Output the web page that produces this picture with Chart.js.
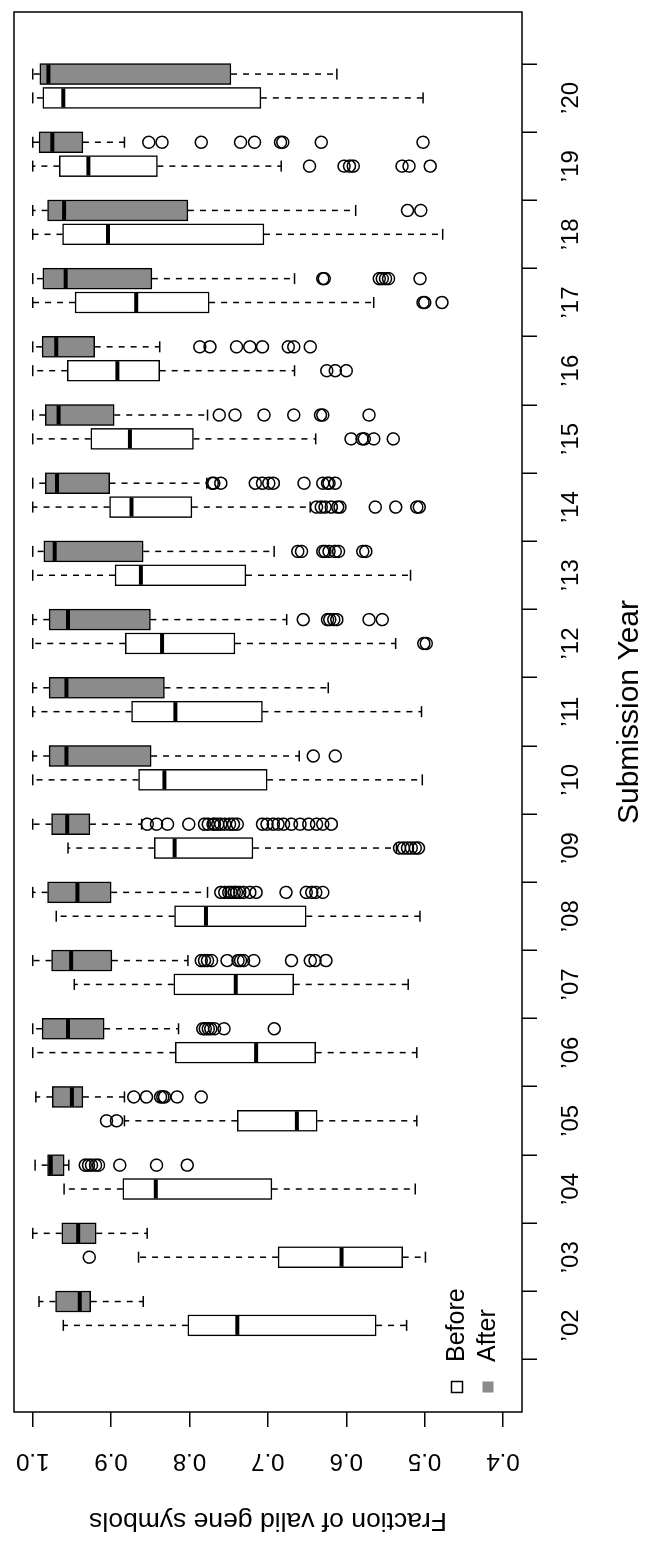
<!DOCTYPE html>
<html>
<head>
<meta charset="utf-8">
<script src="https://cdn.jsdelivr.net/npm/chart.js@4.4.1/dist/chart.umd.min.js"></script>
<style>
html, body { margin: 0; padding: 0; background: #fff; overflow: hidden; }
body { width: 650px; height: 1543px; position: relative; }
/* the plot is drawn upright (years along x) and then turned a quarter turn counter-clockwise */
#wrap { position: absolute; left: 0; top: 0; width: 1543px; height: 650px; transform-origin: 0 0; transform: translateY(1543px) rotate(-90deg); }
</style>
</head>
<body>
<div id="wrap"><canvas id="chart" width="1543" height="650"></canvas></div>
<script>
const years = ["\u201902", "\u201903", "\u201904", "\u201905", "\u201906", "\u201907", "\u201908", "\u201909", "\u201910", "\u201911",
  "\u201912", "\u201913", "\u201914", "\u201915", "\u201916", "\u201917", "\u201918", "\u201919", "\u201920"];
const valueTicks = [0.4, 0.5, 0.6, 0.7, 0.8, 0.9, 1.0];

// Before
const beforeHigh   = [0.961, 0.865, 0.960, 0.883, 1.000, 0.947, 0.970, 0.955, 1.000, 1.000, 1.000, 1.000, 1.000, 1.000, 1.000, 1.000, 1.000, 1.000, 1.000];
const beforeQ3     = [0.802, 0.687, 0.885, 0.739, 0.818, 0.820, 0.819, 0.845, 0.865, 0.874, 0.882, 0.895, 0.902, 0.926, 0.956, 0.946, 0.962, 0.966, 0.987];
const beforeMedian = [0.739, 0.606, 0.843, 0.663, 0.715, 0.741, 0.779, 0.819, 0.832, 0.818, 0.835, 0.862, 0.874, 0.876, 0.892, 0.868, 0.904, 0.929, 0.961];
const beforeQ1     = [0.562, 0.528, 0.695, 0.637, 0.639, 0.667, 0.651, 0.719, 0.701, 0.707, 0.742, 0.728, 0.797, 0.795, 0.838, 0.775, 0.705, 0.841, 0.709];
const beforeLow    = [0.523, 0.499, 0.512, 0.510, 0.510, 0.521, 0.506, 0.536, 0.503, 0.504, 0.537, 0.518, 0.646, 0.639, 0.666, 0.565, 0.477, 0.683, 0.502];
const beforeOutliers = [
  [], [0.928], [], [0.906, 0.893], [], [], [],
  [0.532, 0.527, 0.522, 0.517, 0.512, 0.508],
  [], [], [0.501, 0.498], [],
  [0.638, 0.632, 0.627, 0.619, 0.611, 0.608, 0.563, 0.537, 0.510, 0.507],
  [0.594, 0.580, 0.577, 0.565, 0.540],
  [0.625, 0.614, 0.600],
  [0.502, 0.500, 0.478],
  [],
  [0.647, 0.603, 0.596, 0.591, 0.529, 0.520, 0.493],
  []
];

// After
const afterHigh   = [0.992, 1.000, 0.997, 0.996, 1.000, 1.000, 1.000, 1.000, 1.000, 1.000, 1.000, 1.000, 1.000, 1.000, 1.000, 1.000, 1.000, 1.000, 1.000];
const afterQ3     = [0.971, 0.963, 0.981, 0.975, 0.988, 0.976, 0.981, 0.976, 0.979, 0.979, 0.979, 0.986, 0.984, 0.984, 0.988, 0.987, 0.981, 0.992, 0.991];
const afterMedian = [0.940, 0.942, 0.977, 0.950, 0.955, 0.951, 0.943, 0.956, 0.957, 0.957, 0.955, 0.972, 0.969, 0.967, 0.970, 0.958, 0.960, 0.975, 0.980];
const afterQ1     = [0.926, 0.919, 0.960, 0.936, 0.909, 0.899, 0.900, 0.927, 0.849, 0.832, 0.850, 0.859, 0.902, 0.896, 0.921, 0.848, 0.802, 0.936, 0.747];
const afterLow    = [0.859, 0.854, 0.954, 0.883, 0.814, 0.802, 0.777, 0.861, 0.660, 0.623, 0.676, 0.692, 0.778, 0.777, 0.838, 0.666, 0.588, 0.883, 0.612];
const afterOutliers = [
  [], [],
  [0.933, 0.929, 0.925, 0.920, 0.916, 0.889, 0.842, 0.803],
  [0.871, 0.855, 0.837, 0.834, 0.832, 0.816, 0.785],
  [0.783, 0.780, 0.776, 0.773, 0.768, 0.756, 0.692],
  [0.785, 0.781, 0.777, 0.772, 0.752, 0.738, 0.735, 0.731, 0.718, 0.670, 0.646, 0.640, 0.626],
  [0.760, 0.755, 0.750, 0.747, 0.743, 0.740, 0.736, 0.731, 0.723, 0.715, 0.677, 0.651, 0.644, 0.639, 0.630],
  [0.854, 0.842, 0.828, 0.801, 0.781, 0.776, 0.770, 0.768, 0.764, 0.760, 0.755, 0.749, 0.744, 0.739,
   0.707, 0.701, 0.693, 0.687, 0.680, 0.670, 0.659, 0.648, 0.638, 0.630, 0.619],
  [0.642, 0.614],
  [],
  [0.655, 0.624, 0.621, 0.616, 0.612, 0.571, 0.554],
  [0.662, 0.657, 0.630, 0.627, 0.622, 0.614, 0.610, 0.579, 0.575],
  [0.771, 0.769, 0.760, 0.716, 0.707, 0.699, 0.693, 0.654, 0.630, 0.624, 0.622, 0.614],
  [0.762, 0.742, 0.705, 0.667, 0.633, 0.630, 0.571],
  [0.787, 0.774, 0.740, 0.723, 0.707, 0.674, 0.667, 0.646],
  [0.630, 0.628, 0.558, 0.554, 0.550, 0.546, 0.506],
  [0.522, 0.505],
  [0.852, 0.835, 0.785, 0.735, 0.717, 0.684, 0.681, 0.632, 0.502],
  []
];

const AFTER_SHIFT = 0.35;
const BOX_PX = 21;
const FONT = "'Liberation Sans', Arial, Helvetica, sans-serif";

function boxData(q1, q3, shift) {
  return years.map((_, i) => ({ x: i + 1 + shift, y: [q1[i], q3[i]] }));
}

function outlierData(list, shift) {
  const pts = [];
  list.forEach((vals, i) => vals.forEach(v => pts.push({ x: i + 1 + shift, y: v })));
  return pts;
}

function line(ctx, x1, y1, x2, y2) {
  ctx.beginPath();
  ctx.moveTo(x1, y1);
  ctx.lineTo(x2, y2);
  ctx.stroke();
}

// whiskers under the boxes, medians / frame / legend on top
const boxPlot = {
  id: 'boxPlot',
  beforeDatasetsDraw(chart) {
    const { ctx, scales: { x, y } } = chart;
    ctx.save();
    ctx.strokeStyle = '#000';
    ctx.lineWidth = 1.5;
    chart.data.datasets.forEach(ds => {
      if (!ds.stats) return;
      ds.data.forEach((d, i) => {
        const px = x.getPixelForValue(d.x);
        const hi = y.getPixelForValue(ds.stats.high[i]);
        const lo = y.getPixelForValue(ds.stats.low[i]);
        ctx.setLineDash([6, 6]);
        line(ctx, px, y.getPixelForValue(d.y[1]), px, hi);
        line(ctx, px, y.getPixelForValue(d.y[0]), px, lo);
        ctx.setLineDash([]);
        line(ctx, px - 5.5, hi, px + 5.5, hi);
        line(ctx, px - 5.5, lo, px + 5.5, lo);
      });
    });
    ctx.restore();
  },
  afterDatasetsDraw(chart) {
    const { ctx, chartArea: a, scales: { x, y } } = chart;
    ctx.save();
    ctx.strokeStyle = '#000';
    ctx.lineWidth = 4;
    chart.data.datasets.forEach(ds => {
      if (!ds.stats) return;
      ds.data.forEach((d, i) => {
        const px = x.getPixelForValue(d.x);
        const py = y.getPixelForValue(ds.stats.median[i]);
        line(ctx, px - BOX_PX / 2 + 1, py, px + BOX_PX / 2 - 1, py);
      });
    });

    // frame
    ctx.lineWidth = 1.5;
    ctx.strokeRect(a.left, a.top, a.right - a.left, a.bottom - a.top);

    // legend, bottom left
    const boxes = chart.data.datasets.filter(ds => ds.stats);
    ctx.font = '25px ' + FONT;
    ctx.textAlign = 'left';
    ctx.textBaseline = 'middle';
    boxes.forEach((ds, k) => {
      const cx = a.left + 25;
      const cy = a.bottom - 65 + k * 31;
      if (k === 0) {
        ctx.fillStyle = '#fff';
        ctx.fillRect(cx - 5.5, cy - 5.5, 11, 11);
        ctx.strokeRect(cx - 5.5, cy - 5.5, 11, 11);
      } else {
        ctx.fillStyle = ds.backgroundColor;
        ctx.fillRect(cx - 5.5, cy - 5.5, 11, 11);
      }
      ctx.fillStyle = '#000';
      ctx.fillText(ds.label, cx + 25, cy);
    });
    ctx.restore();
  }
};

new Chart(document.getElementById('chart'), {
  type: 'bar',
  data: {
    datasets: [
      {
        label: 'Before',
        data: boxData(beforeQ1, beforeQ3, 0),
        stats: { low: beforeLow, median: beforeMedian, high: beforeHigh },
        backgroundColor: '#ffffff',
        borderColor: '#000',
        borderWidth: 1.5,
        borderSkipped: false,
        barThickness: BOX_PX,
        grouped: false
      },
      {
        label: 'After',
        data: boxData(afterQ1, afterQ3, AFTER_SHIFT),
        stats: { low: afterLow, median: afterMedian, high: afterHigh },
        backgroundColor: '#8b8b8b',
        borderColor: '#000',
        borderWidth: 1.5,
        borderSkipped: false,
        barThickness: BOX_PX,
        grouped: false
      },
      {
        type: 'scatter',
        label: 'Before outliers',
        data: outlierData(beforeOutliers, 0),
        pointStyle: 'circle',
        pointRadius: 6,
        pointBorderWidth: 1.5,
        pointBorderColor: '#000',
        pointBackgroundColor: 'rgba(0,0,0,0)'
      },
      {
        type: 'scatter',
        label: 'After outliers',
        data: outlierData(afterOutliers, AFTER_SHIFT),
        pointStyle: 'circle',
        pointRadius: 6,
        pointBorderWidth: 1.5,
        pointBorderColor: '#000',
        pointBackgroundColor: 'rgba(0,0,0,0)'
      }
    ]
  },
  options: {
    responsive: false,
    devicePixelRatio: 1,
    animation: false,
    layout: { padding: { top: 14, right: 12, left: 0, bottom: 0 } },
    plugins: {
      legend: { display: false },
      tooltip: { enabled: false }
    },
    scales: {
      x: {
        type: 'linear',
        min: -0.27,
        max: 20.26,
        offset: false,
        afterBuildTicks: s => { s.ticks = years.map((_, i) => ({ value: i + 1 })); },
        afterFit: s => { s.height = 128; s.paddingLeft = 0; s.paddingRight = 0; },
        ticks: {
          autoSkip: false,
          minRotation: 0,
          maxRotation: 0,
          padding: 20,
          color: '#000',
          font: { family: FONT, size: 24 },
          callback: v => years[Math.round(v) - 1]
        },
        grid: { drawOnChartArea: false, drawTicks: true, tickLength: 15, color: '#000', lineWidth: 1.5 },
        border: { display: false },
        title: { display: true, text: 'Submission Year', color: '#000', font: { family: FONT, size: 30 }, padding: { top: 0, bottom: 2 } }
      },
      y: {
        type: 'linear',
        min: 0.3758,
        max: 1.0239,
        afterBuildTicks: s => { s.ticks = valueTicks.map(v => ({ value: v })); },
        afterFit: s => { s.width = 131; s.paddingTop = 0; s.paddingBottom = 0; },
        ticks: {
          autoSkip: false,
          minRotation: 90,
          maxRotation: 90,
          crossAlign: 'center',
          padding: 17,
          color: '#000',
          font: { family: FONT, size: 24 },
          callback: v => v.toFixed(1)
        },
        grid: { drawOnChartArea: false, drawTicks: true, tickLength: 15, color: '#000', lineWidth: 1.5 },
        border: { display: false },
        title: { display: true, text: 'Fraction of valid gene symbols', color: '#000', font: { family: FONT, size: 26.5 }, padding: { top: 7, bottom: 0 } }
      }
    }
  },
  plugins: [boxPlot]
});
</script>
</body>
</html>
